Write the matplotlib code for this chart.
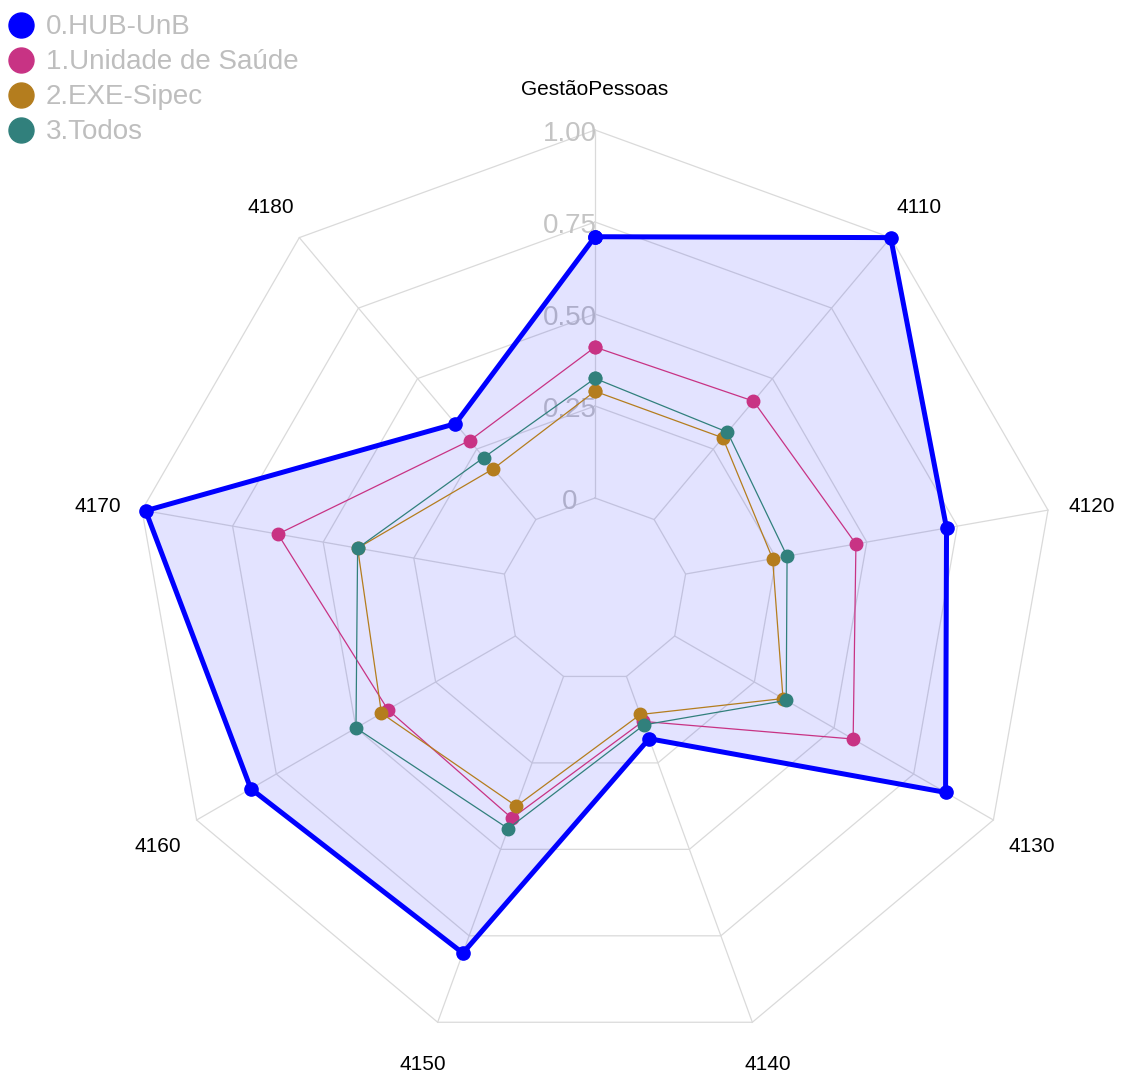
import numpy as np
import matplotlib.pyplot as plt

plt.rcParams['font.family'] = ['Liberation Sans', 'DejaVu Sans']

# Data
axis_names = ['GestãoPessoas', '4110', '4120', '4130', '4140',
              '4150', '4160', '4170', '4180']
groups = ['0.HUB-UnB', '1.Unidade de Saúde', '2.EXE-Sipec', '3.Todos']
hub = [0.71, 1.00, 0.72, 0.85, 0.18, 0.80, 0.83, 0.99, 0.34]
saude = [0.41, 0.42, 0.47, 0.56, 0.13, 0.41, 0.40, 0.625, 0.28]
sipec = [0.29, 0.29, 0.24, 0.34, 0.11, 0.375, 0.42, 0.405, 0.18]
todos = [0.325, 0.31, 0.28, 0.35, 0.14, 0.44, 0.50, 0.405, 0.22]
grid_values = [0, 0.25, 0.5, 0.75, 1.0]
grid_labels = ['0', '0.25', '0.50', '0.75', '1.00']

colors = ['#0000FF', '#C83384', '#B47D1E', '#31807C']
series = [hub, saude, sipec, todos]

centre_y = -0.25  # value drawn at the centre
n = len(axis_names)
theta = 2 * np.pi * np.arange(n) / n


def to_xy(vals):
    r = np.asarray(vals) - centre_y
    x = r * np.sin(theta)
    y = r * np.cos(theta)
    return np.append(x, x[0]), np.append(y, y[0])


fig = plt.figure(figsize=(11.21, 10.75), dpi=100)
ax = fig.add_axes([0, 0, 1, 1])
scale = 368.0  # px per unit
ax.set_xlim(-595 / scale, (1121 - 595) / scale)
ax.set_ylim(-(1075 - 590) / scale, 590 / scale)
ax.axis('off')
dy_txt = 4 / scale  # small downward nudge for text

# grid polygons and axis lines
for g in grid_values:
    gx, gy = to_xy([g] * n)
    ax.plot(gx, gy, color='#DADADA', lw=0.9, zorder=1)
for t in theta:
    r0, r1 = grid_values[0] - centre_y, grid_values[-1] - centre_y
    ax.plot([r0 * np.sin(t), r1 * np.sin(t)], [r0 * np.cos(t), r1 * np.cos(t)],
            color='#DADADA', lw=0.9, zorder=1)

# grid value labels
for g, lab in zip(grid_values, grid_labels):
    ax.text(-0.068, g - centre_y - dy_txt, lab, ha='center', va='center',
            fontsize=20, color='#C4C4C4', zorder=2)

# axis labels
lab_r = 1.372
for t, name in zip(theta, axis_names):
    ly = lab_r * np.cos(t)
    # bottom labels sit at the edge, keep them inside the canvas
    ly = ly if ly < -1.2 else ly - dy_txt
    ax.text(lab_r * np.sin(t), ly, name,
            ha='center', va='center', fontsize=15, color='black')

# filled HUB area
hx, hy = to_xy(hub)
ax.fill(hx, hy, color='#0000FF', alpha=0.11, lw=0, zorder=3)

for i, (vals, c) in enumerate(zip(series, colors)):
    sx, sy = to_xy(vals)
    if i == 0:
        ax.plot(sx, sy, color=c, lw=3.6, marker='o', ms=9.5, zorder=4)
    else:
        ax.plot(sx, sy, color=c, lw=0.9, marker='o', ms=9, zorder=5)

# legend (manual, top-left)
for i, (name, c) in enumerate(zip(groups, colors)):
    yy = 1 - (25 + 35 * i) / 1075
    ax.plot([21 / 1121], [yy], marker='o', ms=18, color=c,
            transform=ax.transAxes, clip_on=False)
    ax.text(46 / 1121, yy - 2 / 1075, name, transform=ax.transAxes,
            ha='left', va='center', fontsize=20, color='#BEBEBE')

fig.savefig('out.png', dpi=100)
